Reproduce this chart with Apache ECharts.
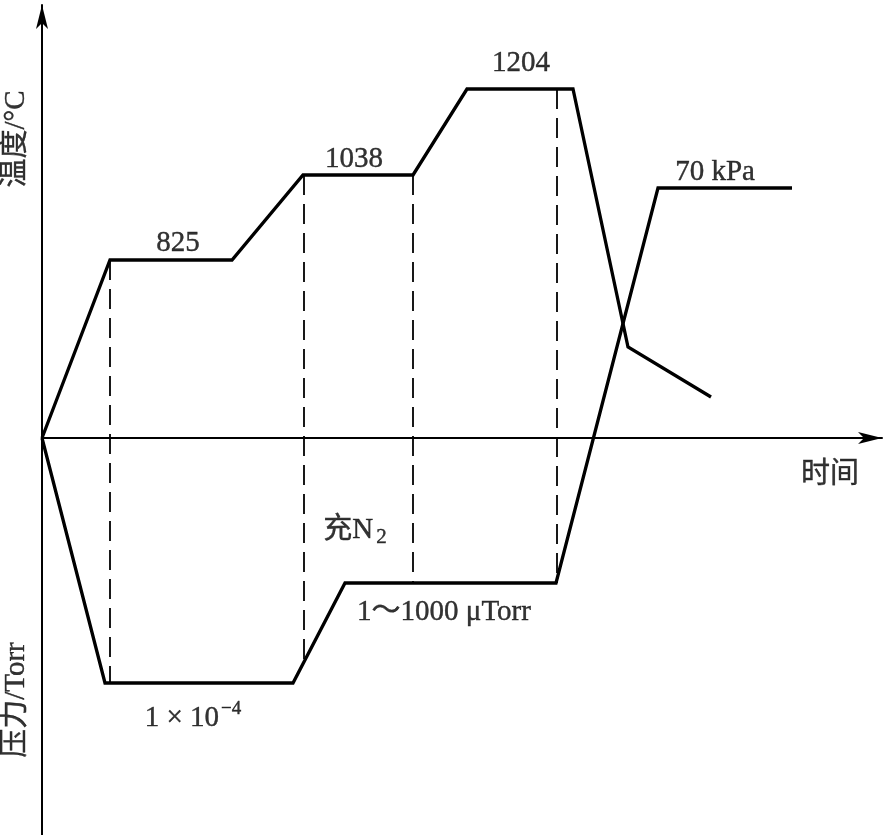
<!DOCTYPE html>
<html>
<head>
<meta charset="utf-8">
<script src="https://cdn.jsdelivr.net/npm/echarts@6/dist/echarts.min.js"></script>
<style>
html,body{margin:0;padding:0;background:#fff;}
#chart{width:885px;height:835px;}
</style>
</head>
<body>
<div id="chart"></div>
<script>
// Schematic process: time (arbitrary units) vs level (arbitrary units; up = temperature, down = pressure)
const tempTime  = [0, 68, 190, 261, 371, 425, 531, 586, 669];
const tempLevel = [0, 178, 178, 263, 263, 349, 349, 91, 41];
const pressTime  = [0, 63, 251, 303, 514, 616, 750];
const pressLevel = [0, -245, -245, -145, -145, 250, 250];
// vertical dashed guide lines: time, top level, bottom level
const guideTime   = [68, 262, 371, 515];
const guideTop    = [178, 263, 263, 349];
const guideBottom = [-245, -222, -145, -145];
// annotation texts
const annoText = ['825', '1038', '1204', '70 kPa', '时间', '充N{sub|2}', '1～1000 μTorr', '1{x| × }10{sup|−4}', '温度/°C', '压力/Torr'];
const annoTime  = [136, 312, 479, 673, 788, 313, 402, 151, -26, -26];
const annoLevel = [195, 279, 375, 266, -37, -92, -174, -280, 299, -262];
const annoRotate = [0, 0, 0, 0, 0, 0, 0, 0, 90, 90];

const FONT = "'Liberation Serif', 'Noto Sans CJK SC', serif";
const zip = (xs, ys) => xs.map((x, i) => [x, ys[i]]);

const series = [];
series.push({
  type: 'line', data: zip(tempTime, tempLevel), symbol: 'none', silent: true,
  lineStyle: {color: '#000', width: 3.3, join: 'miter'}, z: 3
});
series.push({
  type: 'line', data: zip(pressTime, pressLevel), symbol: 'none', silent: true,
  lineStyle: {color: '#000', width: 3.3, join: 'miter'}, z: 3
});
guideTime.forEach((t, i) => {
  series.push({
    type: 'line', data: [[t, guideTop[i]], [t, guideBottom[i]]], symbol: 'none', silent: true,
    lineStyle: {color: '#000', width: 1.8, type: [20, 9]}, z: 2
  });
});
series.push({
  type: 'scatter', symbolSize: 0, silent: true, clip: false,
  data: annoText.map((s, i) => ({
    value: [annoTime[i], annoLevel[i]],
    label: {formatter: s, rotate: annoRotate[i]}
  })),
  label: {
    show: true, position: 'inside', color: '#000', fontFamily: FONT, fontSize: 29,
    textBorderWidth: 0.4, textBorderColor: '#000',
    rich: {
      sup: {fontSize: 19, fontFamily: FONT, color: '#000', textBorderWidth: 0.4, textBorderColor: '#000', verticalAlign: 'top', padding: [0, 0, 18, 2]},
      sub: {fontSize: 21, fontFamily: FONT, color: '#000', textBorderWidth: 0.4, textBorderColor: '#000', verticalAlign: 'bottom', padding: [14, 0, 0, 3]},
      x: {fontSize: 29, fontFamily: FONT, color: '#000', textBorderWidth: 0.4, textBorderColor: '#000'}
    }
  }
});

const chart = echarts.init(document.getElementById('chart'), null, {renderer: 'canvas'});
chart.setOption({
  animation: false,
  backgroundColor: '#fff',
  grid: {left: 42, top: 5, width: 840, height: 830},
  xAxis: {
    type: 'value', min: 0, max: 840,
    axisLine: {show: true, onZero: true, lineStyle: {color: '#000', width: 2}, symbol: ['none', 'arrow'], symbolSize: [9, 24]},
    axisTick: {show: false}, axisLabel: {show: false}, splitLine: {show: false}
  },
  yAxis: {
    type: 'value', min: -397, max: 433,
    axisLine: {show: true, onZero: false, lineStyle: {color: '#000', width: 2}, symbol: ['none', 'arrow'], symbolSize: [9, 24]},
    axisTick: {show: false}, axisLabel: {show: false}, splitLine: {show: false}
  },
  series: series
});
</script>
</body>
</html>
